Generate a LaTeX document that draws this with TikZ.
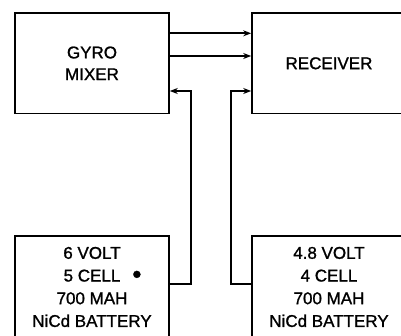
\documentclass[tikz,border=0pt]{standalone}
\usepackage{fontspec}
\setmainfont{Liberation Sans}
\newfontfamily\lblfont{Liberation Sans}[FakeBold=1.2]
\usetikzlibrary{arrows.meta}

\begin{document}
\begin{tikzpicture}[
  x=1pt, y=-1pt,
  >={Stealth[length=8pt,width=6pt]},
  unit/.style={draw,line width=1.6pt,minimum width=154pt,minimum height=100.5pt,
               inner sep=0pt,align=center,font=\lblfont\fontsize{17}{21.7}\selectfont},
  cell/.style={unit,minimum height=102pt,font=\lblfont\fontsize{17}{22.7}\selectfont},
  wire/.style={line width=1.7pt},
]
  \useasboundingbox (0,0) rectangle (401,336);

  % --- units ---
  \node[unit] (gyro) at (92,63.3)  {GYRO\\MIXER};
  \node[unit] (rx)   at (329,63.3) {RECEIVER};

  % --- batteries ---
  \node[cell] (bat1) at (92,287)  {6 VOLT\\5 CELL\rlap{\hspace{12pt}\raisebox{-1.5pt}{\fontsize{26}{26}\selectfont•}}\\700 MAH\\NiCd BATTERY};
  \node[cell] (bat2) at (329,287) {4.8 VOLT\\4 CELL\\700 MAH\\NiCd BATTERY};

  % --- bends ---
  \coordinate (j1) at (190.7,284);
  \coordinate (j2) at (231,284);

  % --- signal lines ---
  \draw[wire,->] (gyro.east |- 0,33.3) -- (rx.west |- 0,33.3);
  \draw[wire,->] (gyro.east |- 0,56)   -- (rx.west |- 0,56);

  % --- power lines ---
  \draw[wire,->] (bat1.east |- j1) -- (j1) -- (j1 |- 0,91) -- (gyro.east |- 0,91);
  \draw[wire,->] (bat2.west |- j2) -- (j2) -- (j2 |- 0,91) -- (rx.west |- 0,91);

\end{tikzpicture}
\end{document}
